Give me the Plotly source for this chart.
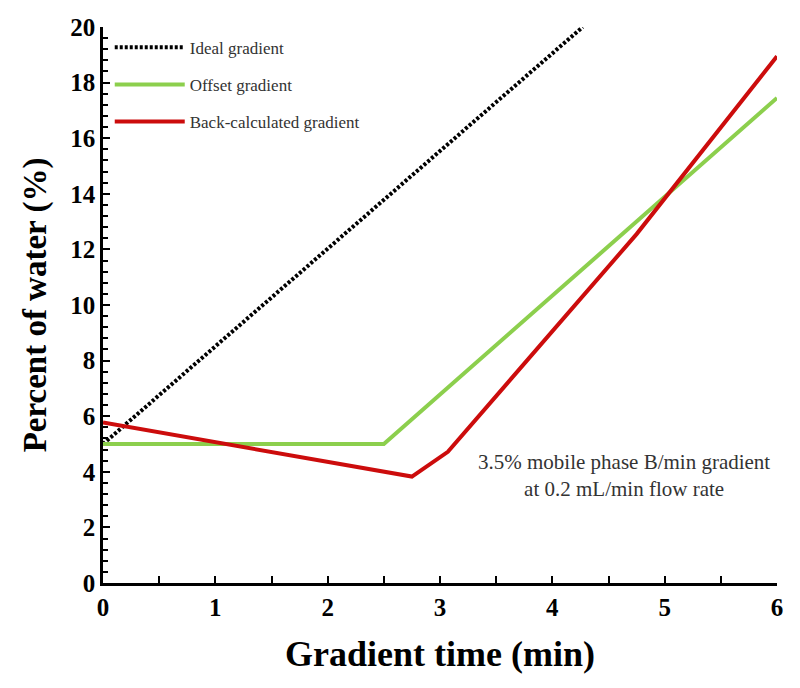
import plotly.graph_objects as go

# Gradient profiles (time in min, percent of water)
ideal_t = [0.0, 4.27]
ideal_y = [5.0, 20.0]

offset_t = [0.0, 2.5, 6.0]
offset_y = [5.0, 5.0, 17.45]

back_t = [0.0, 2.75, 3.07, 4.75, 6.0]
back_y = [5.77, 3.83, 4.72, 12.55, 18.95]

x_ticks = [0, 1, 2, 3, 4, 5, 6]
y_ticks = [0, 2, 4, 6, 8, 10, 12, 14, 16, 18, 20]

SERIF = "Liberation Serif, Times New Roman, serif"

fig = go.Figure()
fig.add_trace(go.Scatter(
    x=ideal_t, y=ideal_y, mode="lines", name="Ideal gradient",
    line=dict(color="black", width=4, dash="3px,2px"), legendgroup="a"
))
fig.add_trace(go.Scatter(
    x=offset_t, y=offset_y, mode="lines", name="Offset gradient",
    line=dict(color="#8ccf4d", width=4), legendgroup="b"
))
fig.add_trace(go.Scatter(
    x=back_t, y=back_y, mode="lines", name="Back-calculated gradient",
    line=dict(color="#cc0c0c", width=4), legendgroup="c"
))

fig.add_annotation(
    x=0.773, y=0.194, xref="paper", yref="paper",
    xanchor="center", yanchor="middle",
    text="3.5% mobile phase B/min gradient<br>at 0.2 mL/min flow rate",
    showarrow=False, align="center",
    font=dict(family=SERIF, size=21, color="#333333")
)

fig.update_layout(
    width=800, height=688,
    margin=dict(l=103, r=23, t=27, b=105),
    plot_bgcolor="white", paper_bgcolor="white",
    font=dict(family=SERIF, color="black"),
    showlegend=True,
    legend=dict(
        x=0.01, y=0.995, xanchor="left", yanchor="top",
        bgcolor="rgba(0,0,0,0)", traceorder="grouped", tracegroupgap=12,
        itemwidth=70,
        font=dict(family=SERIF, size=17, color="#333333")
    ),
    xaxis=dict(
        range=[0, 6], tickvals=x_ticks, showgrid=False, zeroline=False,
        showline=True, linecolor="black", linewidth=2.5, automargin=False,
        ticks="inside", ticklen=7, tickwidth=2, tickcolor="black",
        minor=dict(dtick=0.5, ticks="inside", ticklen=7, tickwidth=2, tickcolor="black"),
        tickfont=dict(family=SERIF, size=25, color="black", weight="bold"),
        title=dict(text="<b>Gradient time (min)</b>", standoff=22,
                   font=dict(family=SERIF, size=36, color="black"))
    ),
    yaxis=dict(
        range=[0, 20], tickvals=y_ticks, showgrid=False, zeroline=False,
        showline=True, linecolor="black", linewidth=2.5, automargin=False,
        ticks="inside", ticklen=7, tickwidth=2, tickcolor="black",
        minor=dict(dtick=0.4, ticks="inside", ticklen=5, tickwidth=2, tickcolor="black"),
        tickfont=dict(family=SERIF, size=25, color="black", weight="bold"),
        title=dict(text="<b>Percent of water (%)</b>", standoff=14,
                   font=dict(family=SERIF, size=33, color="black"))
    ),
)

# remove the default page margin so the plot sits at the window origin
fig.write_html("out.html", config={"displayModeBar": False},
               post_script="document.body.style.margin='0';")
